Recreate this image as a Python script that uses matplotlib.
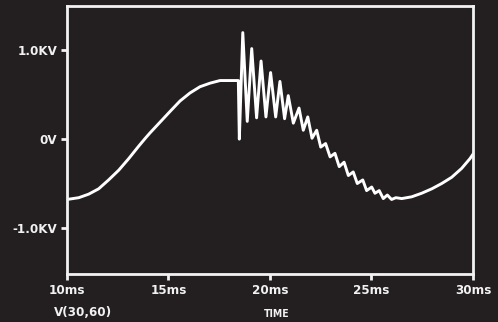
import matplotlib
matplotlib.use("Agg")
import matplotlib.pyplot as plt

# time (ms) and voltage (kV)
time_ms = [10.00, 10.58, 11.07, 11.56, 12.05, 12.55, 13.04, 13.53, 13.86, 14.09,
           14.58, 15.07, 15.57, 16.06, 16.55, 17.04, 17.54, 18.03, 18.44, 18.49,
           18.66, 18.88, 19.10, 19.34, 19.56, 19.80, 20.03, 20.28, 20.49, 20.72,
           20.90, 21.15, 21.43, 21.64, 21.86, 22.07, 22.30, 22.50, 22.74, 22.96,
           23.20, 23.41, 23.65, 23.86, 24.10, 24.30, 24.57, 24.76, 25.01, 25.17,
           25.38, 25.58, 25.78, 25.99, 26.20, 26.49, 26.98, 27.47, 27.97, 28.46,
           28.95, 29.44, 29.85, 30.00]
volt_kv = [-0.68, -0.66, -0.62, -0.56, -0.46, -0.35, -0.22, -0.08, 0.01, 0.07,
           0.19, 0.31, 0.43, 0.52, 0.59, 0.63, 0.66, 0.66, 0.66, 0.00,
           1.20, 0.20, 1.02, 0.24, 0.88, 0.25, 0.75, 0.25, 0.65, 0.23,
           0.49, 0.18, 0.35, 0.10, 0.25, 0.01, 0.10, -0.09, -0.05, -0.20,
           -0.16, -0.31, -0.26, -0.41, -0.37, -0.50, -0.46, -0.58, -0.54, -0.61,
           -0.58, -0.67, -0.63, -0.68, -0.66, -0.67, -0.65, -0.61, -0.56, -0.50,
           -0.43, -0.33, -0.22, -0.17]

x_ticks = [10, 15, 20, 25, 30]
x_tick_labels = ["10ms", "15ms", "20ms", "25ms", "30ms"]
y_ticks = [-1.0, 0.0, 1.0]
y_tick_labels = ["-1.0KV", "0V", "1.0KV"]

bg = "#231f20"
fg = "#f2f2f2"

fig = plt.figure(figsize=(4.98, 3.22), dpi=100, facecolor=bg)
ax = fig.add_axes([0.1345, 0.149, 0.8153, 0.8324], facecolor=bg)
ax.plot(time_ms, volt_kv, color="white", lw=2.1, solid_joinstyle="round")
ax.set_xlim(10, 30)
ax.set_ylim(-1.52, 1.50)
for s in ax.spines.values():
    s.set_color(fg)
    s.set_linewidth(2)

font = dict(family="DejaVu Sans", stretch="condensed", weight="bold", size=9.5)
ax.set_xticks(x_ticks)
ax.set_xticklabels(x_tick_labels, color=fg, fontdict=font)
ax.set_yticks(y_ticks)
ax.set_yticklabels(y_tick_labels, color=fg, fontdict=font)
ax.tick_params(axis="both", colors=fg, width=2, length=4, pad=3)

fig.text(0.108, 0.028, "V(30,60)", color=fg, ha="left", va="center", **font)
fig.text(0.555, 0.025, "TIME", color=fg, ha="center", va="center",
         family="DejaVu Sans", stretch="condensed", weight="bold", size=7.5)

fig.savefig("out.png", dpi=100, facecolor=bg)
